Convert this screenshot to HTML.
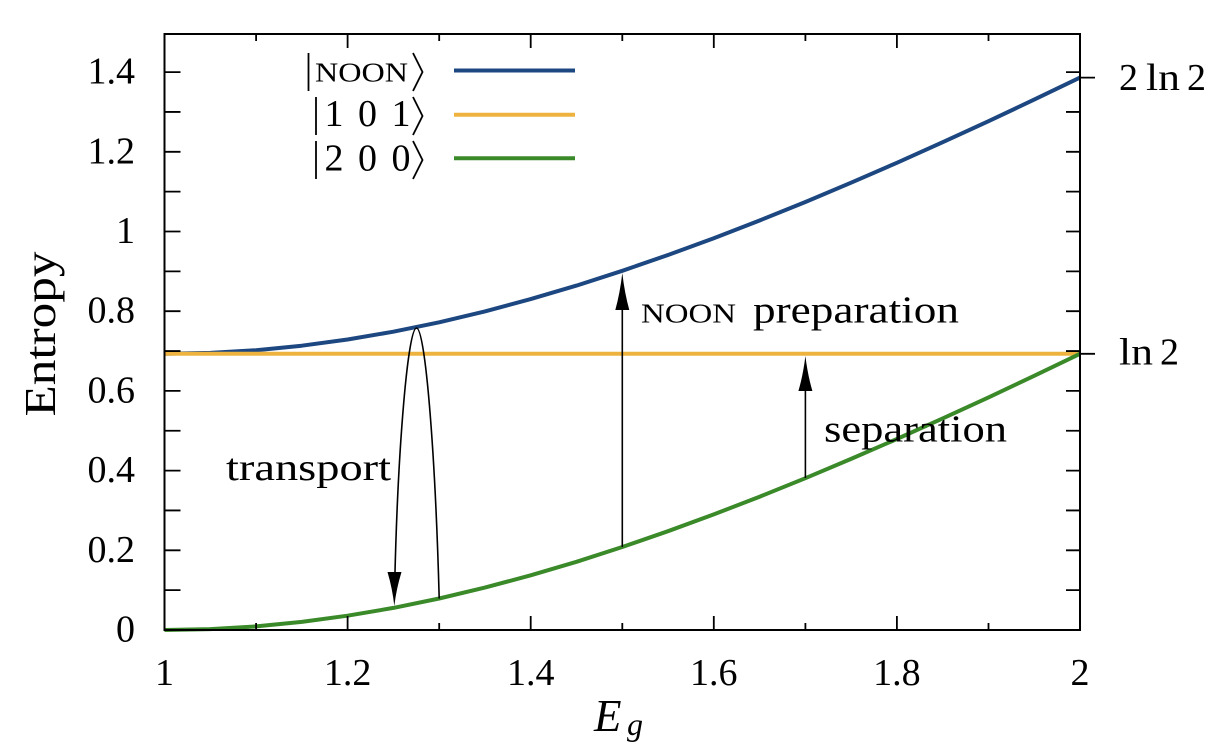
<!DOCTYPE html>
<html>
<head>
<meta charset="utf-8">
<style>
  html, body { margin: 0; padding: 0; background: #ffffff; }
  svg { display: block; }
  text { font-family: "Liberation Serif", "DejaVu Serif", serif; fill: #000; }
</style>
</head>
<body>
<svg width="1228" height="750" viewBox="0 0 1228 750" xmlns="http://www.w3.org/2000/svg">
  <rect x="0" y="0" width="1228" height="750" fill="#ffffff"/>

  <!-- curves -->
  <polyline fill="none" stroke="#1d4780" stroke-width="4" stroke-linejoin="round"
    points="164.5,353.8 210.3,352.9 256.1,350.2 301.8,345.7 347.6,339.5 393.4,331.7 439.2,322.3 484.9,311.4 530.7,299.1 576.5,285.6 622.3,270.8 668.0,255.0 713.8,238.2 759.6,220.5 805.4,202.0 851.1,182.7 896.9,162.8 942.7,142.2 988.5,121.2 1034.2,99.6 1080,77.6"/>
  <line x1="164.5" y1="353.8" x2="1080" y2="353.8" stroke="#eeb33f" stroke-width="4"/>
  <polyline fill="none" stroke="#3b8a2a" stroke-width="4" stroke-linejoin="round"
    points="164.5,630.0 210.3,629.1 256.1,626.4 301.8,621.9 347.6,615.7 393.4,607.9 439.2,598.5 484.9,587.6 530.7,575.3 576.5,561.8 622.3,547.0 668.0,531.2 713.8,514.4 759.6,496.7 805.4,478.2 851.1,458.9 896.9,439.0 942.7,418.4 988.5,397.4 1034.2,375.8 1080,353.8"/>

  <!-- frame -->
  <rect x="164.5" y="34" width="915.5" height="596" fill="none" stroke="#000" stroke-width="2"/>

  <!-- ticks -->
  <path fill="none" stroke="#000" stroke-width="1.8" d="
    M256.1,630 v-7 M347.6,630 v-14 M439.2,630 v-7 M530.7,630 v-14 M622.3,630 v-7
    M713.8,630 v-14 M805.4,630 v-7 M896.9,630 v-14 M988.5,630 v-7
    M256.1,34 v7 M347.6,34 v14 M439.2,34 v7 M530.7,34 v14 M622.3,34 v7
    M713.8,34 v14 M805.4,34 v7 M896.9,34 v14 M988.5,34 v7
    M164.5,590.15 h16 M164.5,550.3 h16 M164.5,510.45 h16 M164.5,470.6 h16 M164.5,430.75 h16
    M164.5,390.9 h16 M164.5,351.05 h16 M164.5,311.2 h16 M164.5,271.35 h16 M164.5,231.5 h16
    M164.5,191.65 h16 M164.5,151.8 h16 M164.5,111.95 h16 M164.5,72.1 h16
    M1080,590.15 h-14 M1080,550.3 h-14 M1080,510.45 h-14 M1080,470.6 h-14 M1080,430.75 h-14
    M1080,390.9 h-14 M1080,351.05 h-14 M1080,311.2 h-14 M1080,271.35 h-14 M1080,231.5 h-14
    M1080,191.65 h-14 M1080,151.8 h-14 M1080,111.95 h-14 M1080,72.1 h-14
    M1080,353.8 h15 M1080,77.6 h15"/>

  <!-- y tick labels -->
  <g font-size="38" text-anchor="end">
    <text x="135" y="641.5">0</text>
    <text x="135" y="561.8">0.2</text>
    <text x="135" y="482.1">0.4</text>
    <text x="135" y="402.4">0.6</text>
    <text x="135" y="322.7">0.8</text>
    <text x="135" y="243">1</text>
    <text x="135" y="163.3">1.2</text>
    <text x="135" y="83.6">1.4</text>
  </g>

  <!-- x tick labels -->
  <g font-size="38" text-anchor="middle">
    <text x="164.5" y="685">1</text>
    <text x="347.6" y="685">1.2</text>
    <text x="530.7" y="685">1.4</text>
    <text x="713.8" y="685">1.6</text>
    <text x="896.9" y="685">1.8</text>
    <text x="1080" y="685">2</text>
  </g>

  <!-- axis titles -->
  <text font-size="44" text-anchor="middle" transform="translate(55,334) rotate(-90)" textLength="165" lengthAdjust="spacingAndGlyphs">Entropy</text>
  <text x="594" y="731" font-size="45" font-style="italic">E</text>
  <text x="627" y="735" font-size="32" font-style="italic">g</text>

  <!-- right labels -->
  <g font-size="38">
    <text x="1119" y="90">2</text>
    <text x="1146" y="90" textLength="34" lengthAdjust="spacingAndGlyphs">ln</text>
    <text x="1187" y="90">2</text>
    <text x="1119" y="364.3" textLength="34" lengthAdjust="spacingAndGlyphs">ln</text>
    <text x="1160" y="364.3">2</text>
  </g>

  <!-- legend -->
  <g stroke="#000" stroke-width="1.8" fill="none">
    <line x1="308.5" y1="53" x2="308.5" y2="91"/>
    <polyline points="413,53 422.5,72 413,91"/>
    <line x1="316" y1="97" x2="316" y2="135"/>
    <polyline points="413,97 422.5,116 413,135"/>
    <line x1="316" y1="141" x2="316" y2="179"/>
    <polyline points="413,141 422.5,160 413,179"/>
  </g>
  <text x="315" y="81.7" font-size="27" textLength="93" lengthAdjust="spacingAndGlyphs">NOON</text>
  <g font-size="38" text-anchor="middle">
    <text x="334" y="126">1</text>
    <text x="367.5" y="126">0</text>
    <text x="401" y="126">1</text>
    <text x="334" y="170.5">2</text>
    <text x="367.5" y="170.5">0</text>
    <text x="401" y="170.5">0</text>
  </g>
  <line x1="454" y1="70.5" x2="575" y2="70.5" stroke="#1d4780" stroke-width="4"/>
  <line x1="454" y1="114.7" x2="575" y2="114.7" stroke="#eeb33f" stroke-width="4"/>
  <line x1="454" y1="158.3" x2="575" y2="158.3" stroke="#3b8a2a" stroke-width="4"/>

  <!-- arrows -->
  <g stroke="#000" stroke-width="1.6" fill="none">
    <line x1="622.3" y1="547" x2="622.3" y2="303"/>
    <line x1="805.4" y1="478" x2="805.4" y2="385"/>
    <path d="M439.2,598.5 C435,445 425,328 416.5,328 C408,328 398,445 394.8,580"/>
  </g>
  <g fill="#000">
    <path d="M622.3,273 Q620,293 615.3,310 L629.3,310 Q624.6,293 622.3,273 Z"/>
    <path d="M805.4,356 Q803.1,375 798.4,391 L812.4,391 Q807.7,375 805.4,356 Z"/>
    <path d="M394.3,606 Q392.5,589 387.5,572 L401.5,572 Q396.3,589 394.3,606 Z"/>
  </g>

  <!-- annotations -->
  <text x="226" y="480" font-size="38" textLength="165" lengthAdjust="spacingAndGlyphs">transport</text>
  <text x="641" y="322.7" font-size="27" textLength="95" lengthAdjust="spacingAndGlyphs">NOON</text>
  <text x="753" y="322.7" font-size="38" textLength="206" lengthAdjust="spacingAndGlyphs">preparation</text>
  <text x="824" y="441.7" font-size="38" textLength="183" lengthAdjust="spacingAndGlyphs">separation</text>
</svg>
</body>
</html>
